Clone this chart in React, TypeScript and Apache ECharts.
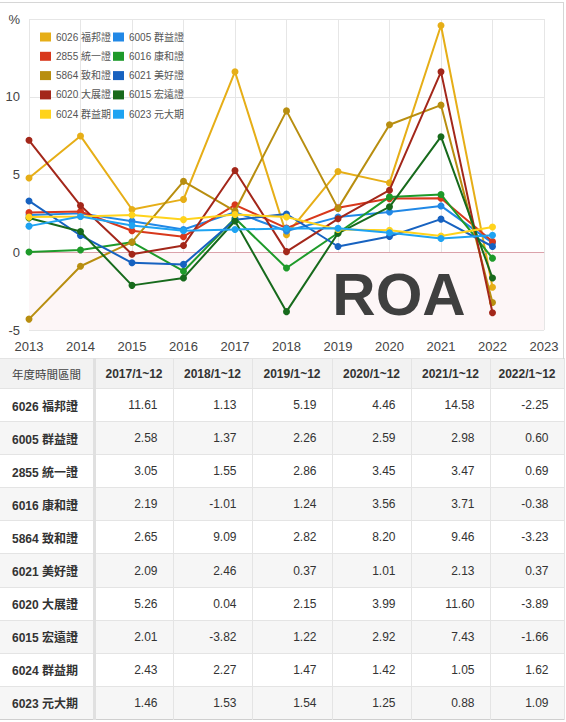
import React, { useEffect, useRef } from "react";
import * as echarts from "echarts";

const years = ["2013", "2014", "2015", "2016", "2017", "2018", "2019", "2020", "2021", "2022", "2023"];
const tableYears = ["2017/1~12", "2018/1~12", "2019/1~12", "2020/1~12", "2021/1~12", "2022/1~12"];
const tableFirstIndex = 4;

const names = [
  "6026 福邦證",
  "6005 群益證",
  "2855 統一證",
  "6016 康和證",
  "5864 致和證",
  "6021 美好證",
  "6020 大展證",
  "6015 宏遠證",
  "6024 群益期",
  "6023 元大期",
];

const colors = [
  "#E6AE17",
  "#2188E6",
  "#D8381C",
  "#1E9A2A",
  "#B88E10",
  "#1762C0",
  "#A3271A",
  "#176A1C",
  "#FFD31C",
  "#1EA3F2",
];

const v6026 = [4.77, 7.48, 2.75, 3.4, 11.61, 1.13, 5.19, 4.46, 14.58, -2.25];
const v6005 = [2.4, 2.5, 2.0, 1.46, 2.58, 1.37, 2.26, 2.59, 2.98, 0.6];
const v2855 = [2.56, 2.62, 1.38, 1.0, 3.05, 1.55, 2.86, 3.45, 3.47, 0.69];
const v6016 = [0.02, 0.15, 0.65, -1.22, 2.19, -1.01, 1.24, 3.56, 3.71, -0.38];
const v5864 = [-4.3, -0.9, 0.65, 4.56, 2.65, 9.09, 2.82, 8.2, 9.46, -3.23];
const v6021 = [3.3, 1.08, -0.68, -0.78, 2.09, 2.46, 0.37, 1.01, 2.13, 0.37];
const v6020 = [7.2, 3.0, -0.13, 0.43, 5.26, 0.04, 2.15, 3.99, 11.6, -3.89];
const v6015 = [2.2, 1.33, -2.13, -1.65, 2.01, -3.82, 1.22, 2.92, 7.43, -1.66];
const v6024 = [2.26, 2.3, 2.4, 2.1, 2.43, 2.27, 1.47, 1.42, 1.05, 1.62];
const v6023 = [1.68, 2.3, 1.72, 1.38, 1.46, 1.53, 1.54, 1.25, 0.88, 1.09];

const values = [v6026, v6005, v2855, v6016, v5864, v6021, v6020, v6015, v6024, v6023];

const leftLegend = [names[0], names[2], names[4], names[6], names[8]];
const rightLegend = [names[1], names[3], names[5], names[7], names[9]];

const chartFont = '"Liberation Sans", Arial, "Noto Sans CJK TC", sans-serif';
const tableFont = '"Liberation Sans", Arial, "Noto Sans CJK TC", sans-serif';

export default function App() {
  const ref = useRef<HTMLDivElement>(null);

  useEffect(() => {
    document.body.style.margin = "0";
    if (!ref.current) return;
    const chart = echarts.init(ref.current, undefined, { renderer: "svg" });

    const series: any[] = values.map((vals, i) => ({
      name: names[i],
      type: "line",
      data: vals,
      symbol: "circle",
      symbolSize: 7,
      lineStyle: { width: 2, color: colors[i] },
      itemStyle: { color: colors[i] },
      z: 3 + i,
    }));
    series[0].markArea = {
      silent: true,
      itemStyle: { color: "#fdf6f7" },
      data: [[{ yAxis: 0 }, { yAxis: -5 }]],
    };
    series[0].markLine = {
      silent: true,
      symbol: "none",
      label: { show: false },
      lineStyle: { color: "#dba2ab", type: "solid", width: 1 },
      data: [{ yAxis: 0 }],
    };

    const legendBase = {
      orient: "vertical",
      icon: "rect",
      itemWidth: 11,
      itemHeight: 9,
      itemGap: 5.3,
      top: 25,
      itemStyle: { borderWidth: 0 },
      textStyle: { color: "#555", fontSize: 10, lineHeight: 14, fontFamily: chartFont },
    };

    chart.setOption({
      animation: false,
      backgroundColor: "#ffffff",
      color: colors,
      legend: [
        { ...legendBase, left: 35, data: leftLegend },
        { ...legendBase, left: 108, data: rightLegend },
      ],
      grid: { left: 29, right: 22, top: 19, height: 311 },
      xAxis: {
        type: "category",
        data: years,
        boundaryGap: false,
        axisLine: { lineStyle: { color: "#cfcfcf" } },
        axisTick: { show: false },
        axisLabel: { color: "#444", fontSize: 13, margin: 10, fontFamily: chartFont },
        splitLine: { show: true, lineStyle: { color: "#e6e6e6" } },
      },
      yAxis: {
        type: "value",
        min: -5,
        max: 15,
        interval: 5,
        axisLine: { show: false },
        axisTick: { show: false },
        axisLabel: {
          color: "#444",
          fontSize: 13,
          margin: 9,
          fontFamily: chartFont,
          formatter: (v: number) => (v === 15 ? "%" : String(v)),
        },
        splitLine: { show: true, lineStyle: { color: "#e6e6e6" } },
      },
      graphic: [
        {
          type: "text",
          x: 399,
          y: 294,
          z: 100,
          style: {
            text: "ROA",
            fill: "#3f3f3f",
            font: 'bold 60px "Liberation Sans", Arial, sans-serif',
            textAlign: "center",
            textVerticalAlign: "middle",
          },
        },
      ],
      series,
    });
    return () => chart.dispose();
  }, []);

  const colWidths = [94, 79, 79, 80, 79, 79, 74];
  const border = "1px solid #e4e4e4";

  return (
    <div style={{ width: 566, height: 722, background: "#fff", overflow: "hidden", position: "relative" }}>
      <div ref={ref} style={{ width: 566, height: 358 }} />
      <table
        style={{
          borderCollapse: "collapse",
          tableLayout: "fixed",
          width: 564,
          fontFamily: tableFont,
          fontSize: 12,
          color: "#333",
          borderRight: "1px solid #cfcfcf",
          borderBottom: "1px solid #cfcfcf",
        }}
      >
        <colgroup>
          {colWidths.map((w, i) => (
            <col key={i} style={{ width: w }} />
          ))}
        </colgroup>
        <thead>
          <tr style={{ height: 30, background: "#f2f2f2" }}>
            <th
              style={{
                textAlign: "left",
                fontWeight: "normal",
                fontSize: 11.5,
                paddingLeft: 12,
                color: "#444",
                borderTop: border,
                borderRight: "3px solid #e0e0e0",
              }}
            >
              年度時間區間
            </th>
            {tableYears.map((y) => (
              <th key={y} style={{ textAlign: "center", fontWeight: "bold", borderTop: border, borderRight: border, fontSize: 12 }}>
                {y}
              </th>
            ))}
          </tr>
        </thead>
        <tbody>
          {names.map((n, r) => (
            <tr key={n} style={{ height: 33.1, background: r % 2 === 1 ? "#f6f6f6" : "#ffffff" }}>
              <td
                style={{
                  fontWeight: "bold",
                  paddingLeft: 12,
                  borderTop: border,
                  borderRight: "3px solid #e0e0e0",
                  whiteSpace: "nowrap",
                }}
              >
                {n}
              </td>
              {values[r].slice(tableFirstIndex).map((v, c) => (
                <td key={c} style={{ textAlign: "right", paddingRight: 15, borderTop: border, borderRight: border }}>
                  {v.toFixed(2)}
                </td>
              ))}
            </tr>
          ))}
        </tbody>
      </table>
      <div
        style={{
          position: "absolute",
          left: 0,
          top: 2,
          width: 563,
          height: 356,
          borderTop: "1px solid #d6d6d6",
          borderRight: "1px solid #d6d6d6",
          pointerEvents: "none",
        }}
      />
    </div>
  );
}
